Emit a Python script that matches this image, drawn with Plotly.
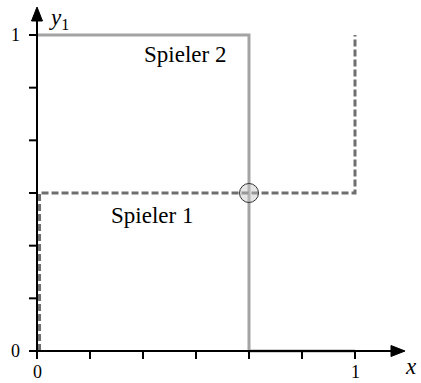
import plotly.graph_objects as go

# Best-response curves of the two players (mixed strategies x1, y1)
s2_x = [0, 2/3, 2/3, 1]
s2_y = [1, 1, 0, 0]
s1_x = [0.008, 0.008, 1, 1]
s1_y = [0, 0.5, 0.5, 1]
eq_x = [2/3]
eq_y = [0.5]
tick_vals = [0, 1/6, 2/6, 3/6, 4/6, 5/6, 1]
tick_labels = ["0", "1"]

W, H = 421, 383
x0px, x1px = 37, 355
y0px, y1px = 351, 35
sx = x1px - x0px
sy = y0px - y1px
xr = [-x0px / sx, (W - x0px) / sx]
yr = [-(H - y0px) / sy, 1 + y1px / sy]


def dx(p):
    """pixel x (from left) -> data x"""
    return (p - x0px) / sx


def dy(p):
    """pixel y (from top) -> data y"""
    return (y0px - p) / sy


serif = "Liberation Serif, Times New Roman, serif"

fig = go.Figure()

fig.add_trace(go.Scatter(x=s2_x, y=s2_y, mode="lines",
                         line=dict(color="#a4a4a4", width=3), showlegend=False))
fig.add_trace(go.Scatter(x=s1_x, y=s1_y, mode="lines",
                         line=dict(color="#6f6f6f", width=3, dash="7px,3px"),
                         showlegend=False))
fig.add_trace(go.Scatter(x=eq_x, y=eq_y, mode="markers",
                         marker=dict(size=19, color="rgba(200,200,200,0.45)",
                                     line=dict(color="#333333", width=1)),
                         showlegend=False))

shapes = []
# axis lines
shapes.append(dict(type="line", xref="x", yref="y", x0=dx(29), x1=dx(395), y0=0, y1=0,
                   line=dict(color="black", width=2)))
shapes.append(dict(type="line", xref="x", yref="y", x0=0, x1=0, y0=dy(359), y1=dy(12),
                   line=dict(color="black", width=2)))
# arrowheads
shapes.append(dict(type="path", xref="x", yref="y",
                   path=f"M {dx(405)} {dy(351)} L {dx(391)} {dy(345.5)} L {dx(391)} {dy(356.5)} Z",
                   fillcolor="black", line=dict(color="black", width=1)))
shapes.append(dict(type="path", xref="x", yref="y",
                   path=f"M {dx(37)} {dy(7)} L {dx(31.5)} {dy(21)} L {dx(42.5)} {dy(21)} Z",
                   fillcolor="black", line=dict(color="black", width=1)))
# tick marks
for t in tick_vals:
    shapes.append(dict(type="line", xref="x", yref="y", x0=t, x1=t,
                       y0=0, y1=dy(359), line=dict(color="black", width=2)))
    shapes.append(dict(type="line", xref="x", yref="y", y0=t, y1=t,
                       x0=0, x1=dx(29), line=dict(color="black", width=2)))

tick_font = dict(family=serif, size=18, color="black")
annotations = [
    # axis titles
    dict(x=dx(47), y=dy(19), xref="x", yref="y", text="<i>y</i><sub>1</sub>",
         showarrow=False, xanchor="left", font=dict(family=serif, size=23, color="black")),
    dict(x=dx(403), y=dy(366), xref="x", yref="y", text="<i>x</i>",
         showarrow=False, xanchor="left", font=dict(family=serif, size=23, color="black")),
    # tick labels
    dict(x=dx(15), y=0, xref="x", yref="y", text=tick_labels[0], showarrow=False, font=tick_font),
    dict(x=dx(15), y=1, xref="x", yref="y", text=tick_labels[1], showarrow=False, font=tick_font),
    dict(x=0, y=dy(372), xref="x", yref="y", text=tick_labels[0], showarrow=False, font=tick_font),
    dict(x=1, y=dy(372), xref="x", yref="y", text=tick_labels[1], showarrow=False, font=tick_font),
    # curve labels
    dict(x=dx(184.5), y=dy(54), xref="x", yref="y", text="Spieler 2", showarrow=False,
         font=dict(family=serif, size=23, color="black")),
    dict(x=dx(152), y=dy(215), xref="x", yref="y", text="Spieler 1", showarrow=False,
         font=dict(family=serif, size=23, color="black")),
]

fig.update_layout(
    width=W, height=H,
    margin=dict(l=0, r=0, t=0, b=0),
    paper_bgcolor="white", plot_bgcolor="white",
    xaxis=dict(range=xr, visible=False, fixedrange=True),
    yaxis=dict(range=yr, visible=False, fixedrange=True),
    shapes=shapes,
    annotations=annotations,
)

fig.write_html("out.html")
